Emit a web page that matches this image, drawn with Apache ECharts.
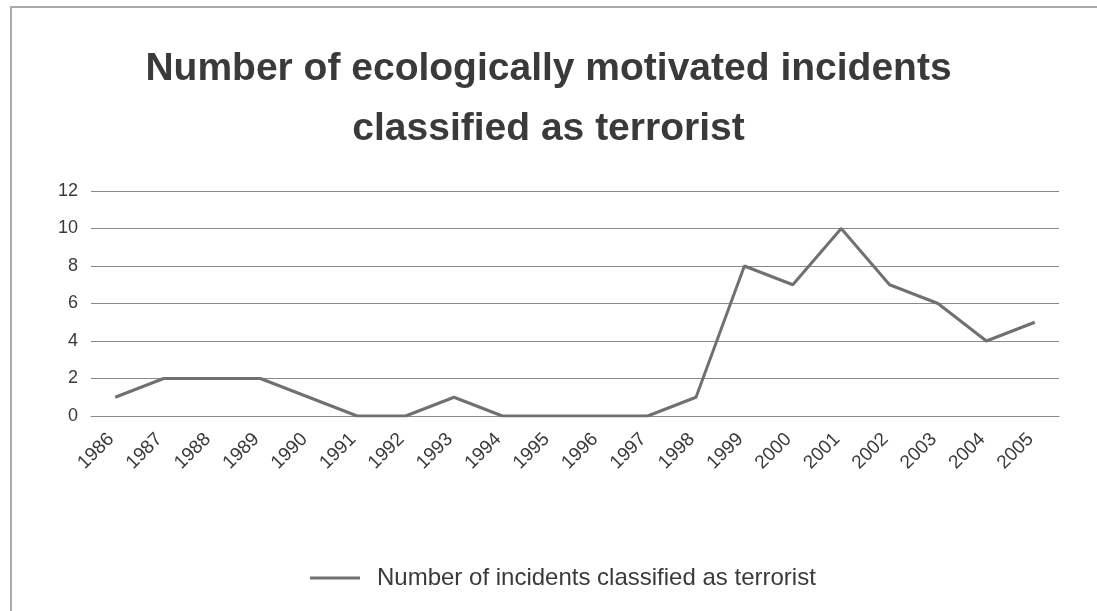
<!DOCTYPE html>
<html>
<head>
<meta charset="utf-8">
<script src="https://cdn.jsdelivr.net/npm/echarts@6/dist/echarts.min.js"></script>
<style>
html,body{margin:0;padding:0;background:#fff;}
#frame{position:absolute;left:10px;top:6px;width:1087px;height:605px;border-left:2px solid #aaa;border-top:2px solid #aaa;box-sizing:border-box;}
#chart{position:absolute;left:0;top:0;width:1097px;height:611px;}
</style>
</head>
<body>
<div id="frame"></div>
<div id="chart"></div>
<script>
const titleText = 'Number of ecologically motivated incidents\nclassified as terrorist';
const seriesName = 'Number of incidents classified as terrorist';
const years = ['1986','1987','1988','1989','1990','1991','1992','1993','1994','1995','1996','1997','1998','1999','2000','2001','2002','2003','2004','2005'];
const incidents = [1,2,2,2,1,0,0,1,0,0,0,0,1,8,7,10,7,6,4,5];
const yTicks = [0,2,4,6,8,10,12];

const chart = echarts.init(document.getElementById('chart'), null, {renderer:'canvas'});
chart.setOption({
  backgroundColor: 'transparent',
  animation: false,
  title: {
    text: titleText,
    left: 'center',
    top: 34,
    textStyle: {
      fontFamily: 'Liberation Sans, Arial, sans-serif',
      fontWeight: 'bold',
      fontSize: 39,
      lineHeight: 60,
      color: '#3a3a3a'
    }
  },
  grid: {left: 91, right: 38, top: 191, bottom: 195, containLabel: false},
  xAxis: {
    type: 'category',
    data: years,
    boundaryGap: true,
    axisLine: {show: true, lineStyle: {color: '#8a8a8a', width: 1}},
    axisTick: {show: false},
    axisLabel: {
      rotate: 45,
      margin: 16,
      interval: 0,
      padding: [0, 6, 0, 0],
      fontFamily: 'Liberation Sans, Arial, sans-serif',
      fontSize: 19,
      color: '#3a3a3a'
    }
  },
  yAxis: {
    type: 'value',
    min: yTicks[0],
    max: yTicks[yTicks.length-1],
    interval: 2,
    axisLine: {show: false},
    axisTick: {show: false},
    splitLine: {show: true, lineStyle: {color: '#8a8a8a', width: 1}},
    axisLabel: {
      margin: 13,
      fontFamily: 'Liberation Sans, Arial, sans-serif',
      fontSize: 18,
      color: '#3a3a3a'
    }
  },
  legend: {
    bottom: 16,
    left: 305,
    icon: 'rect',
    itemWidth: 50,
    itemHeight: 3,
    itemGap: 10,
    textStyle: {
      fontFamily: 'Liberation Sans, Arial, sans-serif',
      fontSize: 24,
      color: '#3a3a3a',
      padding: [0,0,0,12]
    },
    data: [seriesName]
  },
  series: [{
    name: seriesName,
    type: 'line',
    data: incidents,
    symbol: 'none',
    showSymbol: false,
    color: '#707070',
    lineStyle: {color: '#707070', width: 3}
  }]
});
</script>
</body>
</html>
